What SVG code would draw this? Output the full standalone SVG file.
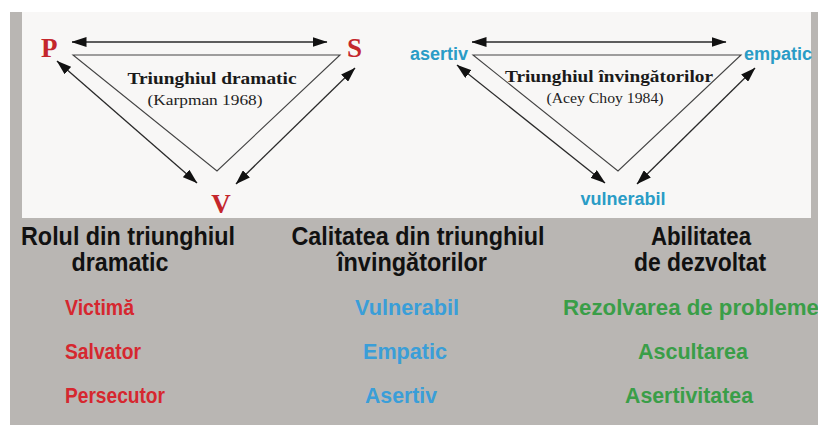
<svg xmlns="http://www.w3.org/2000/svg" width="818" height="425" viewBox="0 0 818 425">
  <defs>
    <marker id="head" viewBox="0 0 15 10" refX="14.5" refY="5" markerWidth="15" markerHeight="10" markerUnits="userSpaceOnUse" orient="auto-start-reverse">
      <path d="M0,0 L15,5 L0,10 z" fill="#111"/>
    </marker>
    <style>
      .edge { fill: none; stroke: #444; stroke-width: 1.1; }
      .dbl { fill: none; stroke: #2a2a2a; stroke-width: 1.3; marker-start: url(#head); marker-end: url(#head); }
      .role { font-family: "Liberation Serif", serif; font-weight: bold; font-size: 27px; fill: #c4262c; }
      .qual { font-family: "Liberation Sans", Arial, sans-serif; font-weight: bold; font-size: 18px; fill: #2a9cc6; }
      .title { font-family: "Liberation Serif", serif; font-weight: bold; font-size: 17px; fill: #1a1a1a; text-anchor: middle; }
      .cite { font-family: "Liberation Serif", serif; font-size: 14px; fill: #222; text-anchor: middle; }
      .head { font-family: "Liberation Sans", Arial, sans-serif; font-weight: bold; font-size: 25px; fill: #111; text-anchor: middle; }
      .cell { font-family: "Liberation Sans", Arial, sans-serif; font-weight: bold; font-size: 22px; }
      .red { fill: #d6272f; }
      .blue { fill: #3a9ed8; text-anchor: middle; }
      .green { fill: #3a9e48; text-anchor: middle; }
    </style>
  </defs>

  <!-- backdrop -->
  <rect x="0" y="0" width="818" height="425" fill="#ffffff"/>
  <rect x="10" y="12" width="808" height="413" fill="#b9b6b3"/>
  <rect x="22" y="12" width="789" height="206" fill="#f8f7f6"/>

  <!-- triangle outlines and arrows -->
  <g id="connectors">
    <path class="edge" d="M73,55 L340,55 L217,171 Z"/>
    <line class="dbl" x1="72" y1="42" x2="327" y2="42"/>
    <line class="dbl" x1="57" y1="61" x2="197" y2="183"/>
    <line class="dbl" x1="355" y1="68" x2="236" y2="184"/>

    <path class="edge" d="M473,55 L741,55 L618,171 Z"/>
    <line class="dbl" x1="472" y1="42" x2="726" y2="42"/>
    <line class="dbl" x1="457" y1="65" x2="605" y2="183"/>
    <line class="dbl" x1="755" y1="68" x2="637" y2="184"/>
  </g>

  <!-- drama triangle -->
  <g id="node-p"><text class="role" x="41" y="57">P</text></g>
  <g id="node-s"><text class="role" x="347" y="57">S</text></g>
  <g id="node-v"><text class="role" x="221" y="213" text-anchor="middle">V</text></g>
  <g id="drama-title">
    <text class="title" x="212" y="84" textLength="169" lengthAdjust="spacingAndGlyphs">Triunghiul dramatic</text>
    <text class="cite" x="205" y="105" textLength="115" lengthAdjust="spacingAndGlyphs">(Karpman 1968)</text>
  </g>

  <!-- winner's triangle -->
  <g id="node-asertiv"><text class="qual" x="410" y="60">asertiv</text></g>
  <g id="node-empatic"><text class="qual" x="744" y="60">empatic</text></g>
  <g id="node-vulnerabil"><text class="qual" x="623" y="205" text-anchor="middle">vulnerabil</text></g>
  <g id="winner-title">
    <text class="title" x="609" y="82" textLength="208" lengthAdjust="spacingAndGlyphs">Triunghiul învingătorilor</text>
    <text class="cite" x="605" y="103" textLength="117" lengthAdjust="spacingAndGlyphs">(Acey Choy 1984)</text>
  </g>

  <!-- comparison table -->
  <g id="column-roles">
    <text class="head" x="128" y="245" textLength="214" lengthAdjust="spacingAndGlyphs">Rolul din triunghiul</text>
    <text class="head" x="120" y="271" textLength="97" lengthAdjust="spacingAndGlyphs">dramatic</text>
    <text class="cell red" x="65" y="315" textLength="69" lengthAdjust="spacingAndGlyphs">Victimă</text>
    <text class="cell red" x="65" y="359" textLength="76" lengthAdjust="spacingAndGlyphs">Salvator</text>
    <text class="cell red" x="65" y="403" textLength="100" lengthAdjust="spacingAndGlyphs">Persecutor</text>
  </g>
  <g id="column-qualities">
    <text class="head" x="418" y="245" textLength="253" lengthAdjust="spacingAndGlyphs">Calitatea din triunghiul</text>
    <text class="head" x="412" y="271" textLength="150" lengthAdjust="spacingAndGlyphs">învingătorilor</text>
    <text class="cell blue" x="407" y="315" textLength="104" lengthAdjust="spacingAndGlyphs">Vulnerabil</text>
    <text class="cell blue" x="405" y="359" textLength="84" lengthAdjust="spacingAndGlyphs">Empatic</text>
    <text class="cell blue" x="401" y="403" textLength="72" lengthAdjust="spacingAndGlyphs">Asertiv</text>
  </g>
  <g id="column-skills">
    <text class="head" x="701" y="245" textLength="100" lengthAdjust="spacingAndGlyphs">Abilitatea</text>
    <text class="head" x="700" y="271" textLength="132" lengthAdjust="spacingAndGlyphs">de dezvoltat</text>
    <text class="cell green" x="691" y="315" textLength="256" lengthAdjust="spacingAndGlyphs">Rezolvarea de probleme</text>
    <text class="cell green" x="693" y="359" textLength="110" lengthAdjust="spacingAndGlyphs">Ascultarea</text>
    <text class="cell green" x="689" y="403" textLength="128" lengthAdjust="spacingAndGlyphs">Asertivitatea</text>
  </g>
</svg>
